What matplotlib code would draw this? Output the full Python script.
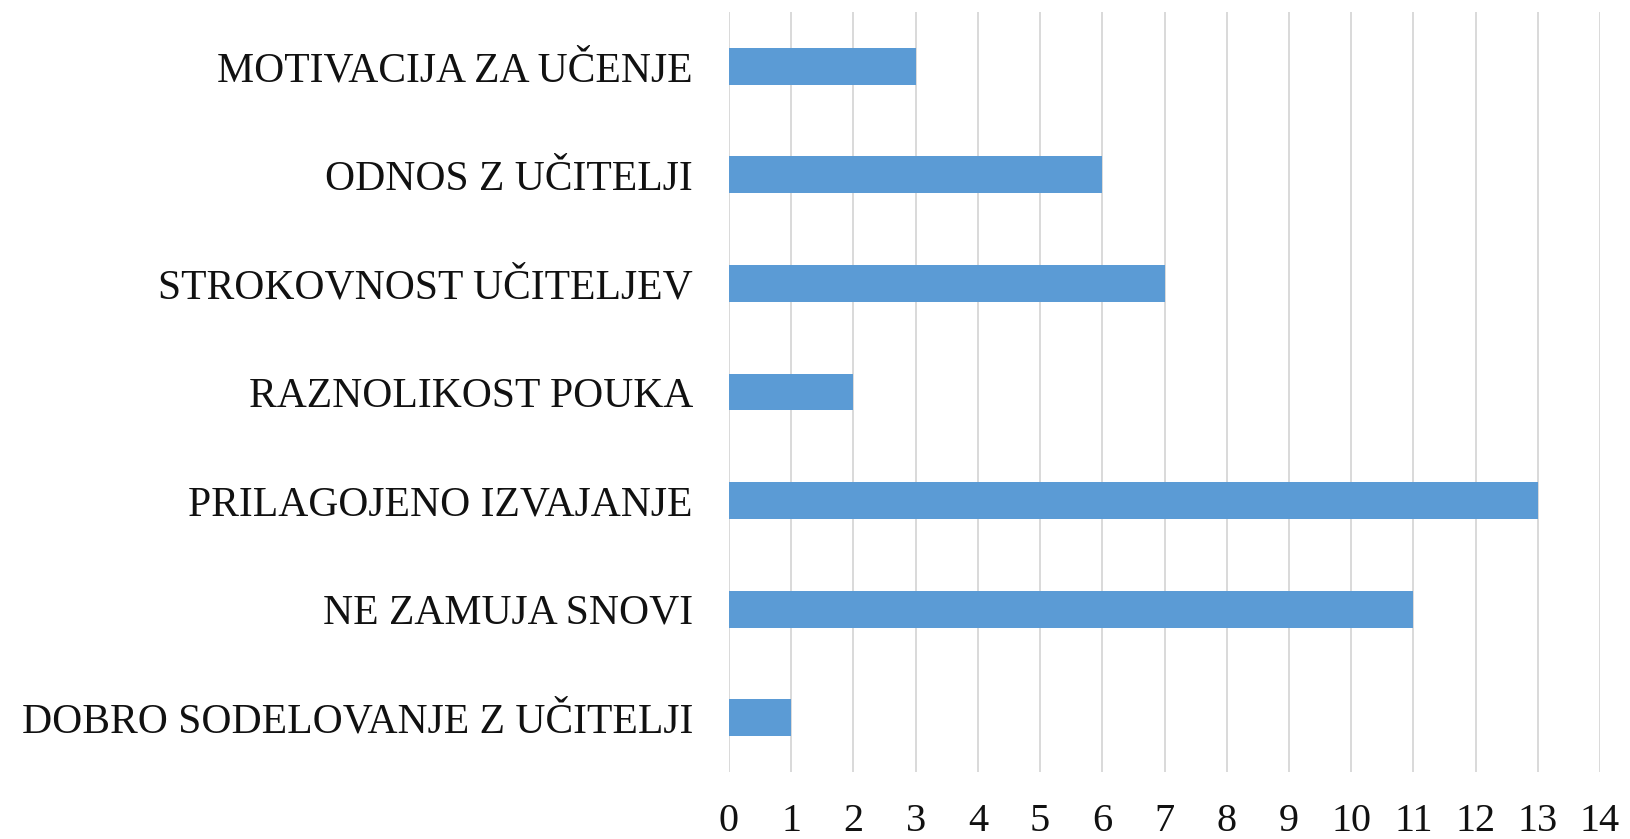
import matplotlib.pyplot as plt

# categories listed bottom -> top
categories = ["DOBRO SODELOVANJE Z UČITELJI", "NE ZAMUJA SNOVI", "PRILAGOJENO IZVAJANJE",
              "RAZNOLIKOST POUKA", "STROKOVNOST UČITELJEV", "ODNOS Z UČITELJI",
              "MOTIVACIJA ZA UČENJE"]
values = [1, 11, 13, 2, 7, 6, 3]
xticks = list(range(0, 15))

plt.rcParams['font.family'] = ['Liberation Serif', 'DejaVu Serif']

fig = plt.figure(figsize=(16.3, 8.39), dpi=100)
ax = fig.add_axes([729/1630, 1 - 772/839, (1600 - 729)/1630, (772 - 12)/839])

ax.barh(range(len(categories)), values, height=0.34, color='#5B9BD5', zorder=3)
ax.set_yticks(range(len(categories)))
ax.set_yticklabels(categories, fontsize=30, color='#111111')
ax.set_xticks(xticks)
ax.set_xticklabels([str(t) for t in xticks], fontsize=29, color='#111111')
ax.set_xlim(0, 14)
ax.set_ylim(-0.5, len(categories) - 0.5)

ax.grid(axis='x', color='#D9D9D9', linewidth=1.4, zorder=0)
ax.tick_params(axis='y', length=0, pad=26)
ax.tick_params(axis='x', length=0, pad=22)
for s in ax.spines.values():
    s.set_visible(False)

fig.savefig("out.png", dpi=100)
